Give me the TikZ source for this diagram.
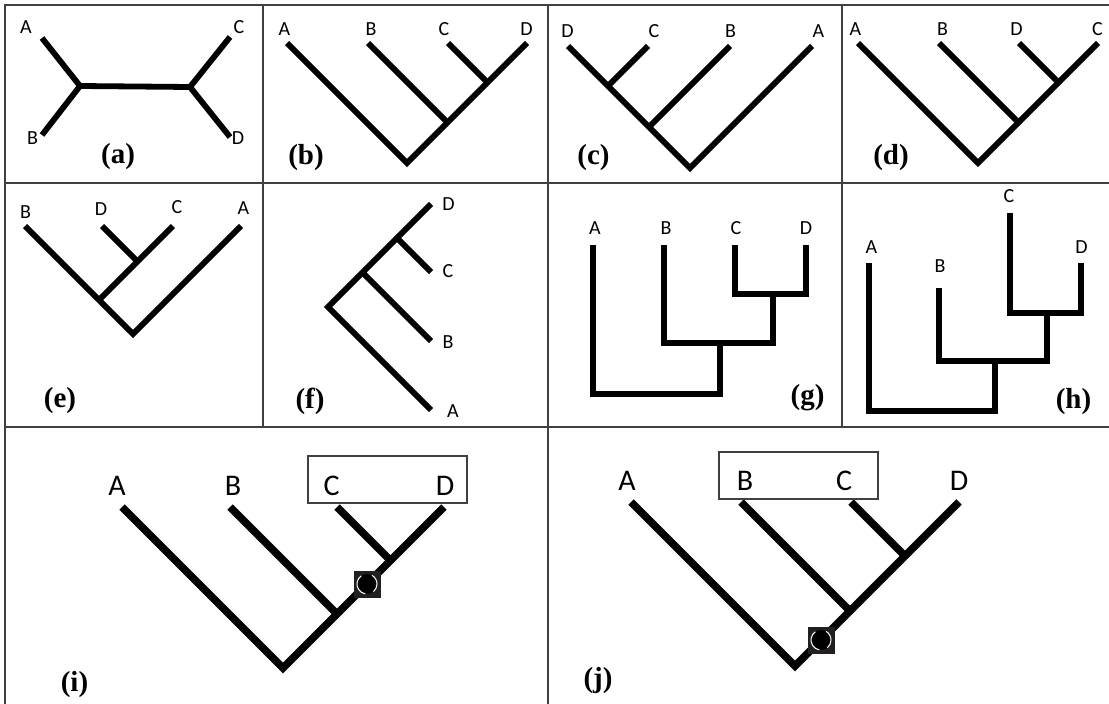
\documentclass[tikz,border=0pt]{standalone}
\usepackage{fontspec}
\setmainfont{Liberation Serif}
\newfontfamily\labfont{Carlito}
\definecolor{sqc}{HTML}{231F20}
\definecolor{gridc}{HTML}{404040}
\begin{document}
\begin{tikzpicture}[x=1pt,y=-1pt,
  gridl/.style={draw=gridc, line width=2pt, line cap=rect},
  br/.style={line width=5.8pt, line join=miter, line cap=butt},
  brg/.style={line width=6.5pt, line join=miter, line cap=butt},
  brb/.style={line width=7.5pt, line join=miter, line cap=butt},
  tip/.style={font=\labfont\fontsize{20}{22}\selectfont, inner sep=0pt},
  tipb/.style={font=\labfont\fontsize{30}{32}\selectfont, inner sep=0pt},
  plab/.style={font=\bfseries\fontsize{29}{30}\selectfont, inner sep=0pt},
  sq/.style={fill=sqc, minimum size=27pt, inner sep=0pt},
  cladebox/.style={draw=gridc, line width=1.2pt},
]
\useasboundingbox (0,0) rectangle (1109,704);
% grid
\draw[gridl] (5,4.5) -- (1109,4.5);
\draw[gridl] (5,183) -- (1109,183);
\draw[gridl] (5,427) -- (1109,427);
\draw[gridl] (5,4.5) -- (5,704);
\draw[gridl] (263,4.5) -- (263,427);
\draw[gridl] (548,4.5) -- (548,704);
\draw[gridl] (842,4.5) -- (842,427);

% ---------- (a)
\coordinate (aA) at (42,38); \coordinate (aB) at (42,135);
\coordinate (aC) at (230,37); \coordinate (aD) at (230,137);
\coordinate (aL) at (80,86); \coordinate (aR) at (190,87);
\draw[br] (aA) -- (aL) -- (aB);
\draw[br] (aL) -- (aR);
\draw[br] (aC) -- (aR) -- (aD);
\node[tip] (laA) at (26,27) {A};
\node[tip] (laB) at (32.5,138) {B};
\node[tip] (laC) at (239,27) {C};
\node[tip] (laD) at (238,138) {D};
\node[plab] (pa) at (118,157) {(a)};

% ---------- (b)
\coordinate (bA) at (287,43); \coordinate (bR) at (407,163); \coordinate (bD) at (527,43);
\coordinate (bB) at (368,43); \coordinate (bjB) at (448,123);
\coordinate (bC) at (448,43); \coordinate (bjC) at (488,83);
\draw[br] (bA) -- (bR) -- (bD);
\draw[br] (bB) -- (bjB);
\draw[br] (bC) -- (bjC);
\node[tip] (lbA) at (284.5,29) {A};
\node[tip] (lbB) at (371,29) {B};
\node[tip] (lbC) at (444,29) {C};
\node[tip] (lbD) at (526.5,29) {D};
\node[plab] (pb) at (306,158) {(b)};

% ---------- (c)
\coordinate (cD) at (568,46); \coordinate (cR) at (690,168); \coordinate (cA) at (812,46);
\coordinate (cC) at (648,46); \coordinate (cjC) at (608,86);
\coordinate (cB) at (730,46); \coordinate (cjB) at (649,127);
\draw[br] (cD) -- (cR) -- (cA);
\draw[br] (cC) -- (cjC);
\draw[br] (cB) -- (cjB);
\node[tip] (lcD) at (567.5,31) {D};
\node[tip] (lcC) at (654,31) {C};
\node[tip] (lcB) at (730.5,31) {B};
\node[tip] (lcA) at (818.5,31) {A};
\node[plab] (pc) at (593.5,158) {(c)};

% ---------- (d)
\coordinate (dA) at (858,43); \coordinate (dR) at (978,163); \coordinate (dC) at (1098,43);
\coordinate (dB) at (939,43); \coordinate (djB) at (1019,123);
\coordinate (dD) at (1019,43); \coordinate (djD) at (1059,83);
\draw[br] (dA) -- (dR) -- (dC);
\draw[br] (dB) -- (djB);
\draw[br] (dD) -- (djD);
\node[tip] (ldA) at (855.5,29) {A};
\node[tip] (ldB) at (942.5,29) {B};
\node[tip] (ldD) at (1016.5,29) {D};
\node[tip] (ldC) at (1097.5,29) {C};
\node[plab] (pd) at (891,158) {(d)};

% ---------- (e)
\coordinate (eB) at (25,226); \coordinate (eR) at (133,334); \coordinate (eA) at (241,226);
\coordinate (eC) at (173,226); \coordinate (ejC) at (99,300);
\coordinate (eD) at (102,226); \coordinate (ejD) at (137.5,261.5);
\draw[br] (eB) -- (eR) -- (eA);
\draw[br] (eC) -- (ejC);
\draw[br] (eD) -- (ejD);
\node[tip] (leB) at (25.5,212.5) {B};
\node[tip] (leD) at (101,209.5) {D};
\node[tip] (leC) at (177,207.5) {C};
\node[tip] (leA) at (243.5,208.5) {A};
\node[plab] (pe) at (60,401) {(e)};

% ---------- (f)
\coordinate (fR) at (328,307); \coordinate (fD) at (431,204); \coordinate (fA) at (431,410);
\coordinate (fC) at (431,272); \coordinate (fjC) at (397,238);
\coordinate (fB) at (431,341); \coordinate (fjB) at (362.5,272.5);
\draw[br] (fD) -- (fR) -- (fA);
\draw[br] (fC) -- (fjC);
\draw[br] (fB) -- (fjB);
\node[tip] (lfD) at (448.5,204) {D};
\node[tip] (lfC) at (448,271) {C};
\node[tip] (lfB) at (448,342.5) {B};
\node[tip] (lfA) at (453,411) {A};
\node[plab] (pf) at (310,401) {(f)};

% ---------- (g)
\coordinate (gA) at (593,245); \coordinate (gB) at (664,245);
\coordinate (gC) at (735,245); \coordinate (gD) at (806,245);
\coordinate (gCD) at (773,294); \coordinate (gBCD) at (720,343);
\coordinate (gR) at (720,394);
\draw[brg] (gC) |- (gCD) -| (gD);
\draw[brg] (gB) |- (gBCD) -| (gCD);
\draw[brg] (gA) |- (gR) -- (gBCD);
\node[tip] (lgA) at (595,228) {A};
\node[tip] (lgB) at (666,228) {B};
\node[tip] (lgC) at (736,228) {C};
\node[tip] (lgD) at (806,228) {D};
\node[plab] (pg) at (807.5,398) {(g)};

% ---------- (h)
\coordinate (hA) at (869,263); \coordinate (hB) at (939,288);
\coordinate (hC) at (1010,213); \coordinate (hD) at (1081,263);
\coordinate (hCD) at (1047,313); \coordinate (hBCD) at (995,361);
\coordinate (hR) at (995,411);
\draw[brg] (hC) |- (hCD) -| (hD);
\draw[brg] (hB) |- (hBCD) -| (hCD);
\draw[brg] (hA) |- (hR) -- (hBCD);
\node[tip] (lhA) at (871.5,247.5) {A};
\node[tip] (lhB) at (940,266) {B};
\node[tip] (lhC) at (1009,196.5) {C};
\node[tip] (lhD) at (1081.5,247.5) {D};
\node[plab] (ph) at (1073.5,402) {(h)};

% ---------- (i)
\coordinate (iA) at (122,507); \coordinate (iR) at (283,668); \coordinate (iD) at (444,507);
\coordinate (iB) at (230,507); \coordinate (ijB) at (337,614);
\coordinate (iC) at (337,507); \coordinate (ijC) at (390.5,560.5);
\draw[brb] (iA) -- (iR) -- (iD);
\draw[brb] (iB) -- (ijB);
\draw[brb] (iC) -- (ijC);
\draw[cladebox] (308,456) rectangle (467,503);
\node[tipb] (liA) at (117,485.5) {A};
\node[tipb] (liB) at (233,485.5) {B};
\node[tipb] (liC) at (331.5,485.5) {C};
\node[tipb] (liD) at (445,485.5) {D};
\node[sq] (mi) at (367,584) {};
\fill[black] (mi.center) circle (10);
\draw[white, line width=1pt] (mi.center) ++(100:10) arc (100:235:10);
\draw[white, line width=1pt] (mi.center) ++(-60:10) arc (-60:50:10);
\node[plab] (pi) at (74.5,684.5) {(i)};

% ---------- (j)
\coordinate (jA) at (631,502); \coordinate (jR) at (795,666); \coordinate (jD) at (959,502);
\coordinate (jB) at (741,502); \coordinate (jjB) at (850,611);
\coordinate (jC) at (851,502); \coordinate (jjC) at (905,556);
\draw[brb] (jA) -- (jR) -- (jD);
\draw[brb] (jB) -- (jjB);
\draw[brb] (jC) -- (jjC);
\draw[cladebox] (719,452) rectangle (878,499);
\node[tipb] (ljA) at (627,480.5) {A};
\node[tipb] (ljB) at (745,480.5) {B};
\node[tipb] (ljC) at (844,480.5) {C};
\node[tipb] (ljD) at (959,480.5) {D};
\node[sq] (mj) at (821,640) {};
\fill[black] (mj.center) circle (10);
\draw[white, line width=1pt] (mj.center) ++(100:10) arc (100:235:10);
\draw[white, line width=1pt] (mj.center) ++(-60:10) arc (-60:50:10);
\node[plab] (pj) at (598,681) {(j)};
\end{tikzpicture}
\end{document}
